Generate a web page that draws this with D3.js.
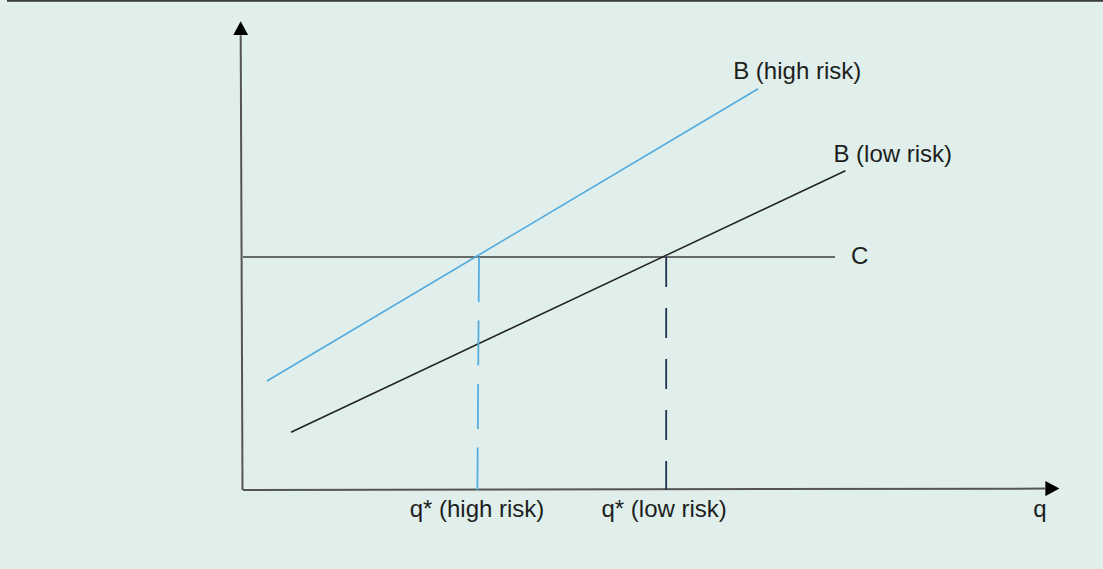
<!DOCTYPE html>
<html>
<head>
<meta charset="utf-8">
<script src="https://cdn.jsdelivr.net/npm/d3@7"></script>
<style>
  html, body { margin: 0; padding: 0; background: #e0efeb; }
  svg { display: block; }
</style>
</head>
<body>
<svg id="chart" width="1103" height="569"></svg>
<script>
// ---- data (conceptual units) ----
const axisMax = { x: 100.3, y: 97.6 };
const costLevel = [50];                       // C (flat)
const costRange = [0, 74];                    // x-extent of C line
const highRiskB = [[3, 23.4], [64.4, 86.1]];  // B (high risk)
const lowRiskB  = [[6, 12.4], [75.3, 68.5]];  // B (low risk)
const qStar = [29.5, 52.9];                   // q* high risk, q* low risk
const qStarLabels = ["q* (high risk)", "q* (low risk)"];
const lineLabels = ["B (high risk)", "B (low risk)", "C"];
const axisLabel = "q";

const W = 1103, H = 569;
const x = d3.scaleLinear().domain([0, 100]).range([243, 1043]);
const y = d3.scaleLinear().domain([0, 100]).range([490, 24]);

const svg = d3.select("#chart");
svg.append("rect").attr("width", W).attr("height", H).attr("fill", "#e0efeb");
svg.append("line").attr("x1", 7).attr("x2", W).attr("y1", 0.8).attr("y2", 0.8)
  .attr("stroke", "#3a3a3a").attr("stroke-width", 1.8);

const defs = svg.append("defs");
defs.append("marker").attr("id", "arrow").attr("viewBox", "0 0 14 15")
  .attr("refX", 0).attr("refY", 7.5).attr("markerWidth", 14).attr("markerHeight", 15)
  .attr("markerUnits", "userSpaceOnUse").attr("orient", "auto")
  .append("path").attr("d", "M0,0 L14,7.5 L0,15 Z").attr("fill", "#000");

const line = d3.line().x(d => x(d[0])).y(d => y(d[1]));

// axes
svg.append("path").datum([[0, 0], [0, axisMax.y]])
  .attr("d", d3.line().x((d, i) => x(d[0]) - (i ? 2.3 : 0.5)).y(d => y(d[1])))
  .attr("stroke", "#555").attr("stroke-width", 2).attr("fill", "none")
  .attr("marker-end", "url(#arrow)");
svg.append("path").datum([[0, 0], [axisMax.x, 0.3]])
  .attr("d", line)
  .attr("stroke", "#555").attr("stroke-width", 2).attr("fill", "none")
  .attr("marker-end", "url(#arrow)");

// C line
svg.append("path").datum(costRange.map(v => [v, costLevel[0]]))
  .attr("d", line).attr("stroke", "#3c3c3c").attr("stroke-width", 1.6).attr("fill", "none");

// B lines
svg.append("path").datum(highRiskB).attr("d", line)
  .attr("stroke", "#52aadf").attr("stroke-width", 1.6).attr("fill", "none");
svg.append("path").datum(lowRiskB).attr("d", line)
  .attr("stroke", "#222").attr("stroke-width", 1.5).attr("fill", "none");

// dashed verticals
const dashStyles = [{ c: "#55acdf", d: "45,18.5" }, { c: "#1f3350", d: "30,21" }];
qStar.forEach((q, i) => {
  svg.append("path").datum([[q, costLevel[0]], [q - (i ? 0 : 0.2), 0]])
    .attr("d", line).attr("stroke", dashStyles[i].c).attr("stroke-width", 1.8)
    .attr("stroke-dasharray", dashStyles[i].d).attr("fill", "none");
});

// labels
const font = "'Liberation Sans', Arial, Helvetica, sans-serif";
const txt = (t, px, py, anchor) => svg.append("text").text(t)
  .attr("x", px).attr("y", py).attr("text-anchor", anchor || "start")
  .attr("font-family", font).attr("font-size", 24).attr("fill", "#1e1e1e");

qStar.forEach((q, i) => txt(qStarLabels[i], x(q) - 2, 517, "middle"));
txt(axisLabel, 1040, 517, "middle");
txt(lineLabels[0], x(highRiskB[1][0]) - 25, 79);
txt(lineLabels[1], x(lowRiskB[1][0]) - 12, 162);
txt(lineLabels[2], x(costRange[1]) + 16, 264);
</script>
</body>
</html>
